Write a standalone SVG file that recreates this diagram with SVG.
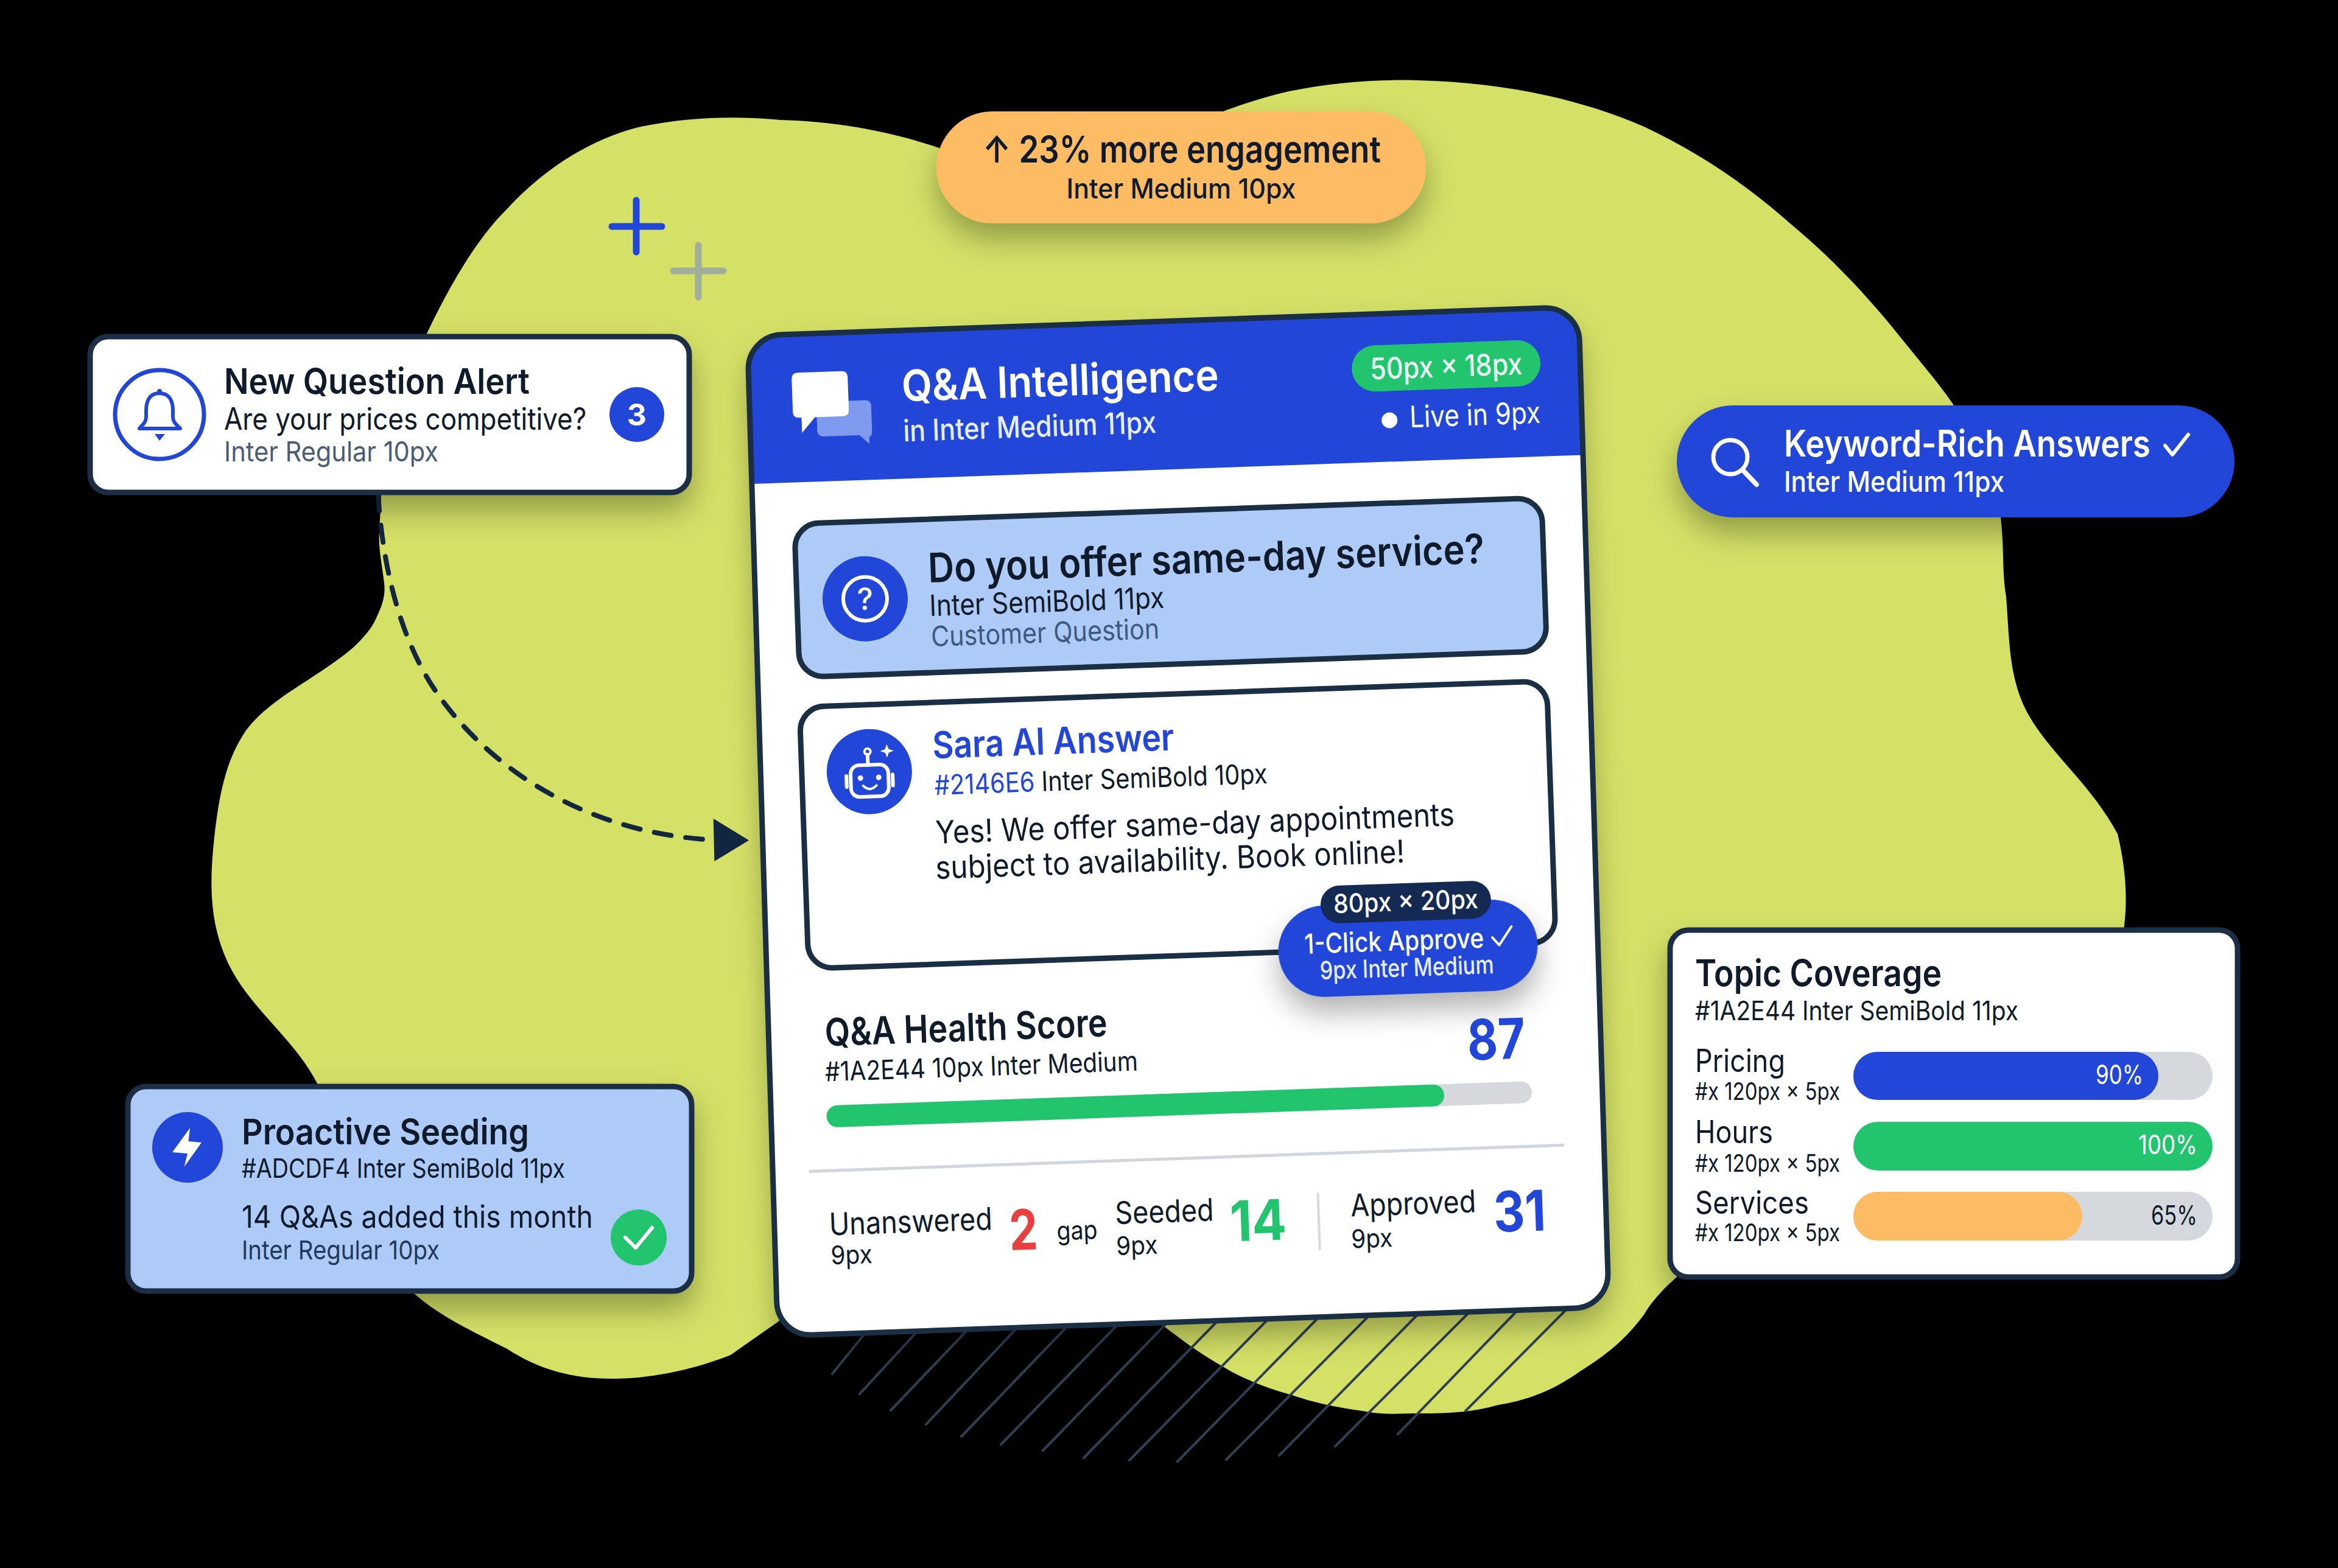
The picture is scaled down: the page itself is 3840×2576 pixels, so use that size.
<svg xmlns="http://www.w3.org/2000/svg" width="3840" height="2576" viewBox="0 0 3840 2576">
<defs>
<style>
text{font-family:Inter,"Liberation Sans","DejaVu Sans",sans-serif;fill:#0f1a2b}
.sb{font-weight:600}.m{font-weight:500}.r{font-weight:400}.b{font-weight:700}
.w{fill:#fff}.blue{fill:#2146d8}.green{fill:#22c46e}.red{fill:#e8403f}.mute{fill:#4a5c78}.mid{text-anchor:middle}.end{text-anchor:end}
.card{stroke:#1a2e44;stroke-width:9}
.hatch line{stroke:#2f4054;stroke-width:4;stroke-linecap:round}
.ico{fill:none;stroke:#fff;stroke-width:6;stroke-linecap:round;stroke-linejoin:round}
.track{fill:#d5d9de}
</style>
<filter id="sh" x="-25%" y="-60%" width="150%" height="240%"><feDropShadow dx="0" dy="26" stdDeviation="24" flood-color="#000" flood-opacity="0.3"/></filter>
<marker id="arrow" viewBox="0 0 60 70" refX="5" refY="35" markerWidth="60" markerHeight="70" markerUnits="userSpaceOnUse" orient="auto"><path d="M0 0L60 33L5 70Z" fill="#12263f"/></marker>
</defs>
<rect width="3840" height="2576" fill="#000"/>
<path id="blob" fill="#d4e066" d="M1281 197C1400 200 1490 225 1548 245C1640 290 1780 280 1880 240C1950 205 2030 170 2117 150C2190 135 2260 130 2330 132C2460 135 2590 160 2700 208C2790 250 2870 305 2940 367C3010 425 3065 485 3110 540C3150 590 3185 630 3207 663C3250 730 3280 790 3286 850C3292 900 3288 940 3295 980C3300 1050 3300 1100 3320 1150C3350 1225 3430 1280 3478 1370C3490 1420 3495 1470 3489 1520C3480 1700 3100 1900 2900 2000C2850 2030 2740 2090 2700 2160C2670 2200 2640 2225 2595 2253C2550 2285 2510 2300 2461 2308C2420 2320 2380 2322 2336 2322C2300 2322 2270 2325 2238 2318C2195 2312 2160 2305 2122 2292C2080 2280 2040 2265 2005 2243C1965 2220 1940 2200 1913 2180L1800 2100L1300 2100L1280 2170L1200 2226C1140 2250 1070 2265 1005 2265C940 2265 885 2250 833 2216C760 2180 700 2150 661 2106C600 2050 570 1980 551 1910C540 1860 530 1820 521 1780C480 1700 400 1650 368 1567C345 1510 345 1450 350 1396C358 1310 370 1250 404 1200C445 1145 520 1115 580 1064C600 1045 612 1030 619 1013C630 990 633 975 631 958C628 930 621 900 623 874L626 813C635 720 665 620 701 548C745 455 790 385 833 343C900 270 980 225 1053 208C1130 192 1210 190 1281 197Z"/>
<g id="plus-marks" stroke-linecap="round" fill="none">
<path d="M1045 329V414M1005 372H1087" stroke="#2146d8" stroke-width="11"/>
<path d="M1147 403V488M1106 445H1188" stroke="#a0ae9a" stroke-width="11"/>
</g>
<g id="hatch" class="hatch">
<line x1="1421" y1="2190" x2="1367" y2="2257"/><line x1="1504" y1="2190" x2="1412" y2="2290"/><line x1="1586" y1="2188" x2="1463" y2="2317"/><line x1="1668" y1="2184" x2="1521" y2="2340"/><line x1="1751" y1="2181" x2="1579" y2="2360"/><line x1="1833" y1="2179" x2="1644" y2="2373"/><line x1="1914" y1="2176" x2="1713" y2="2383"/><line x1="1998" y1="2172" x2="1780" y2="2395"/><line x1="2081" y1="2169" x2="1855" y2="2399"/><line x1="2164" y1="2166" x2="1934" y2="2401"/><line x1="2247" y1="2163" x2="2014" y2="2398"/><line x1="2329" y1="2159" x2="2101" y2="2391"/><line x1="2412" y1="2157" x2="2193" y2="2376"/><line x1="2492" y1="2153" x2="2296" y2="2356"/><line x1="2573" y1="2151" x2="2407" y2="2318"/>
</g>
<g id="connectors">
<path d="M621 811C630 960 670 1080 732 1158C810 1260 960 1370 1175 1380" fill="none" stroke="#12263f" stroke-width="8" stroke-dasharray="28 24" stroke-linecap="round" marker-end="url(#arrow)"/>
</g>
<g id="engagement-pill">
<rect x="1538" y="183" width="804" height="184" rx="92" fill="#fdbb63" filter="url(#sh)"/>
<text x="1941" y="267" class="sb mid" font-size="61" textLength="654" lengthAdjust="spacingAndGlyphs">↑ 23% more engagement</text>
<text x="1940" y="326" class="m mid" font-size="45" textLength="377" lengthAdjust="spacingAndGlyphs">Inter Medium 10px</text>
</g>
<g id="alert-card">
<rect x="148" y="553" width="984" height="256" rx="30" fill="#fff" class="card" filter="url(#sh)"/>
<circle cx="262" cy="681" r="73" fill="none" stroke="#2146d8" stroke-width="7"/>
<path d="M262 646C245 646 240 660 240 675L240 685C240 695 233 698 229 704L296 704C291 698 284 695 284 685L284 675C284 660 279 646 262 646Z" fill="none" stroke="#2146d8" stroke-width="6" stroke-linejoin="round"/>
<circle cx="262" cy="643" r="4" fill="#2146d8"/><path d="M254 713H271L262 724Z" fill="#2146d8"/>
<text x="368" y="647" class="sb" font-size="58" textLength="502" lengthAdjust="spacingAndGlyphs">New Question Alert</text>
<text transform="translate(368 706) scale(.88 1)" class="r" font-size="50">Are your prices competitive?</text>
<text x="368" y="758" class="r mute" font-size="45" textLength="352" lengthAdjust="spacingAndGlyphs">Inter Regular 10px</text>
<circle cx="1046" cy="681" r="45" fill="#2146d8"/>
<text x="1046" y="699" class="b w mid" font-size="50">3</text>
</g>
<g id="seeding-card">
<rect x="210" y="1785" width="926" height="336" rx="30" fill="#aecaf6" class="card" filter="url(#sh)"/>
<circle cx="308" cy="1885" r="58" fill="#2146d8"/>
<polygon points="312,1853 283,1893 308,1895 302.5,1917 331,1877 309.5,1875" fill="#fff"/>
<text x="397" y="1880" class="sb" font-size="58" textLength="472" lengthAdjust="spacingAndGlyphs">Proactive Seeding</text>
<text x="397" y="1935" class="r" font-size="44" textLength="531" lengthAdjust="spacingAndGlyphs">#ADCDF4 Inter SemiBold 11px</text>
<text x="397" y="2017" class="r" font-size="51" textLength="577" lengthAdjust="spacingAndGlyphs">14 Q&amp;As added this month</text>
<text x="397" y="2069" class="r" font-size="43" style="fill:#1d3a5c" textLength="325" lengthAdjust="spacingAndGlyphs">Inter Regular 10px</text>
<circle cx="1049" cy="2033" r="46" fill="#22c46e"/>
<path d="M1027 2033L1044 2050L1071 2017" class="ico"/>
</g>
<g id="keyword-pill">
<rect x="2754" y="666" width="916" height="184" rx="92" fill="#2146d8" filter="url(#sh)"/>
<circle cx="2842" cy="751" r="28" fill="none" stroke="#fff" stroke-width="7"/>
<path d="M2862 772L2885 796" stroke="#fff" stroke-width="8" stroke-linecap="round"/>
<text x="2930" y="750" class="sb w" font-size="60" textLength="602" lengthAdjust="spacingAndGlyphs">Keyword-Rich Answers</text>
<path d="M3556 732L3568 747L3594 714" class="ico"/>
<text x="2930" y="808" class="m w" font-size="47" textLength="362" lengthAdjust="spacingAndGlyphs">Inter Medium 11px</text>
</g>
<g id="topic-card">
<rect x="2743" y="1528" width="932" height="570" rx="30" fill="#fff" class="card" filter="url(#sh)"/>
<text x="2784" y="1620" class="sb" font-size="60" textLength="405" lengthAdjust="spacingAndGlyphs">Topic Coverage</text>
<text x="2784" y="1676" class="r" font-size="44" textLength="531" lengthAdjust="spacingAndGlyphs">#1A2E44 Inter SemiBold 11px</text>
<text x="2784" y="1761" class="r" font-size="52" textLength="148" lengthAdjust="spacingAndGlyphs">Pricing</text>
<text x="2784" y="1807" class="r" font-size="39" textLength="238" lengthAdjust="spacingAndGlyphs">#x 120px × 5px</text>
<rect x="3044" y="1728" width="590" height="79" rx="39.5" class="track"/>
<rect x="3044" y="1728" width="501" height="79" rx="39.5" fill="#2146d8"/>
<text x="3520" y="1781" class="r w end" font-size="44" textLength="78" lengthAdjust="spacingAndGlyphs">90%</text>
<text x="2784" y="1878" class="r" font-size="52" textLength="128" lengthAdjust="spacingAndGlyphs">Hours</text>
<text x="2784" y="1925" class="r" font-size="39" textLength="238" lengthAdjust="spacingAndGlyphs">#x 120px × 5px</text>
<rect x="3044" y="1843" width="590" height="80" rx="40" fill="#22c46e"/>
<text x="3609" y="1896" class="r w end" font-size="44" textLength="97" lengthAdjust="spacingAndGlyphs">100%</text>
<text x="2784" y="1994" class="r" font-size="52" textLength="187" lengthAdjust="spacingAndGlyphs">Services</text>
<text x="2784" y="2039" class="r" font-size="39" textLength="238" lengthAdjust="spacingAndGlyphs">#x 120px × 5px</text>
<rect x="3044" y="1958" width="590" height="80" rx="40" class="track"/>
<rect x="3044" y="1958" width="376" height="80" rx="40" fill="#fdbb63"/>
<text x="3609" y="2012" class="r end" font-size="44" textLength="76" lengthAdjust="spacingAndGlyphs">65%</text>
</g>
<g id="main-card">
<g transform="matrix(.9994 -.0349 .0304 .9995 -39.87 68.18)">
<rect x="1252" y="527.5" width="1366" height="1644" rx="56" fill="#fff" filter="url(#sh)"/>
<path d="M1252 771V584A56 56 0 0 1 1308 527.5H2562A56 56 0 0 1 2618 584V771Z" fill="#2146d8"/>
<rect x="1252" y="527.5" width="1366" height="1644" rx="56" fill="none" class="card"/>
</g>
<g transform="rotate(-2 1935 1349)">
<g id="header-icon">
<path d="M1370 640H1445Q1455 640 1455 650V690Q1455 700 1450 700V712L1434 697H1375Q1365 697 1365 687V650Q1365 640 1370 640Z" fill="#7f9bf0"/>
<path d="M1336 591H1408Q1418 591 1418 601V655Q1418 665 1408 665H1362L1340 690V665H1336Q1326 665 1326 655V601Q1326 591 1336 591Z" fill="#fff"/>
</g>
<text x="1506" y="644" class="sb w" font-size="71" textLength="521" lengthAdjust="spacingAndGlyphs">Q&amp;A Intelligence</text>
<text x="1506" y="710" class="m" style="fill:#e6edff" font-size="49" textLength="416" lengthAdjust="spacingAndGlyphs">in Inter Medium 11px</text>
<rect x="2246" y="579" width="310" height="76" rx="38" fill="#22c46e"/>
<text x="2401" y="635" class="m mid" style="fill:#eafff3" font-size="49" textLength="250" lengthAdjust="spacingAndGlyphs">50px × 18px</text>
<circle cx="2305" cy="703" r="13" fill="#fff"/>
<text x="2338" y="716" class="r w" font-size="49" textLength="215" lengthAdjust="spacingAndGlyphs">Live in 9px</text>
<g id="question-box">
<rect x="1322" y="839" width="1228" height="252" rx="40" fill="#aecaf6" class="card"/>
<circle cx="1434" cy="966" r="70" fill="#2146d8"/>
<circle cx="1434" cy="966" r="36" fill="none" stroke="#fff" stroke-width="6"/>
<text x="1434" y="984" class="m w mid" font-size="50">?</text>
<text x="1539" y="943" class="sb" font-size="67" textLength="914" lengthAdjust="spacingAndGlyphs">Do you offer same-day service?</text>
<text x="1539" y="998" class="r" font-size="48" textLength="386" lengthAdjust="spacingAndGlyphs">Inter SemiBold 11px</text>
<text x="1540" y="1048" class="r" style="fill:#3d5a80" font-size="46" textLength="375" lengthAdjust="spacingAndGlyphs">Customer Question</text>
</g>
<g id="answer-box">
<rect x="1320" y="1140" width="1228" height="430" rx="40" fill="#fff" class="card"/>
<circle cx="1431" cy="1250" r="70" fill="#2146d8"/>
<rect x="1400" y="1239" width="62" height="52" rx="14" class="ico"/>
<path d="M1393 1256V1274M1469 1256V1274M1429 1239V1222" class="ico"/>
<circle cx="1429" cy="1217" r="5" class="ico" style="stroke-width:4"/>
<path d="M1461 1206L1464 1214L1472 1217L1464 1220L1461 1228L1458 1220L1450 1217L1458 1214Z" fill="#fff"/>
<circle cx="1416" cy="1260" r="4.5" fill="#fff"/><circle cx="1446" cy="1260" r="4.5" fill="#fff"/>
<path d="M1420 1273Q1431 1284 1442 1273" class="ico" style="stroke-width:4"/>
<text x="1536" y="1232" class="sb blue" font-size="61" textLength="397" lengthAdjust="spacingAndGlyphs">Sara AI Answer</text>
<text x="1537" y="1292" class="r" font-size="45" textLength="547" lengthAdjust="spacingAndGlyphs"><tspan class="blue">#2146E6</tspan> Inter SemiBold 10px</text>
<text x="1536" y="1372" class="r" font-size="52" textLength="853" lengthAdjust="spacingAndGlyphs">Yes! We offer same-day appointments</text>
<text x="1534" y="1430" class="r" font-size="52" textLength="771" lengthAdjust="spacingAndGlyphs">subject to availability. Book online!</text>
</g>
<g id="approve-button">
<rect x="2092" y="1496" width="426" height="150" rx="75" fill="#2146d8" filter="url(#sh)"/>
<rect x="2164" y="1464" width="280" height="62" rx="31" fill="#142a52"/>
<text x="2304" y="1509" class="m w mid" font-size="43" textLength="238" lengthAdjust="spacingAndGlyphs">80px × 20px</text>
<text x="2135" y="1574" class="m w" font-size="45" textLength="295" lengthAdjust="spacingAndGlyphs">1-Click Approve</text>
<path d="M2444 1558L2455 1571L2476 1541" class="ico" style="stroke-width:4"/>
<text x="2302" y="1617" class="m mid" style="fill:#e6edff" font-size="41" textLength="286" lengthAdjust="spacingAndGlyphs">9px Inter Medium</text>
</g>
<g id="health-score">
<text x="1343" y="1698" class="sb" font-size="63" textLength="464" lengthAdjust="spacingAndGlyphs">Q&amp;A Health Score</text>
<text x="1341" y="1756" class="r" font-size="44" textLength="514" lengthAdjust="spacingAndGlyphs">#1A2E44 10px Inter Medium</text>
<text x="2492" y="1758" class="b blue end" font-size="92" textLength="95" lengthAdjust="spacingAndGlyphs">87</text>
<rect x="1341" y="1796" width="1159" height="36" rx="18" class="track"/>
<rect x="1341" y="1796" width="1015" height="36" rx="18" fill="#22c46e"/>
<path d="M1309 1903H2550" stroke="#cfd6de" stroke-width="5"/>
</g>
<g id="stats">
<text x="1339" y="2009" class="r" font-size="51" textLength="268" lengthAdjust="spacingAndGlyphs">Unanswered</text>
<text x="1340" y="2057" class="r" font-size="42" textLength="68" lengthAdjust="spacingAndGlyphs">9px</text>
<text x="1634" y="2044" class="b red" font-size="92" textLength="47" lengthAdjust="spacingAndGlyphs">2</text>
<text x="1712" y="2030" class="r" font-size="42" textLength="67" lengthAdjust="spacingAndGlyphs">gap</text>
<text x="1809" y="2007" class="r" font-size="51" textLength="162" lengthAdjust="spacingAndGlyphs">Seeded</text>
<text x="1809" y="2058" class="r" font-size="42" textLength="68" lengthAdjust="spacingAndGlyphs">9px</text>
<text x="1997" y="2042" class="b green" font-size="92" textLength="93" lengthAdjust="spacingAndGlyphs">14</text>
<path d="M2143 1967V2061" stroke="#d5d9de" stroke-width="4"/>
<text x="2196" y="2008" class="r" font-size="51" textLength="206" lengthAdjust="spacingAndGlyphs">Approved</text>
<text x="2195" y="2060" class="r" font-size="42" textLength="68" lengthAdjust="spacingAndGlyphs">9px</text>
<text x="2430" y="2042" class="b blue" font-size="92" textLength="86" lengthAdjust="spacingAndGlyphs">31</text>
</g>
</g>
</g>
</svg>
